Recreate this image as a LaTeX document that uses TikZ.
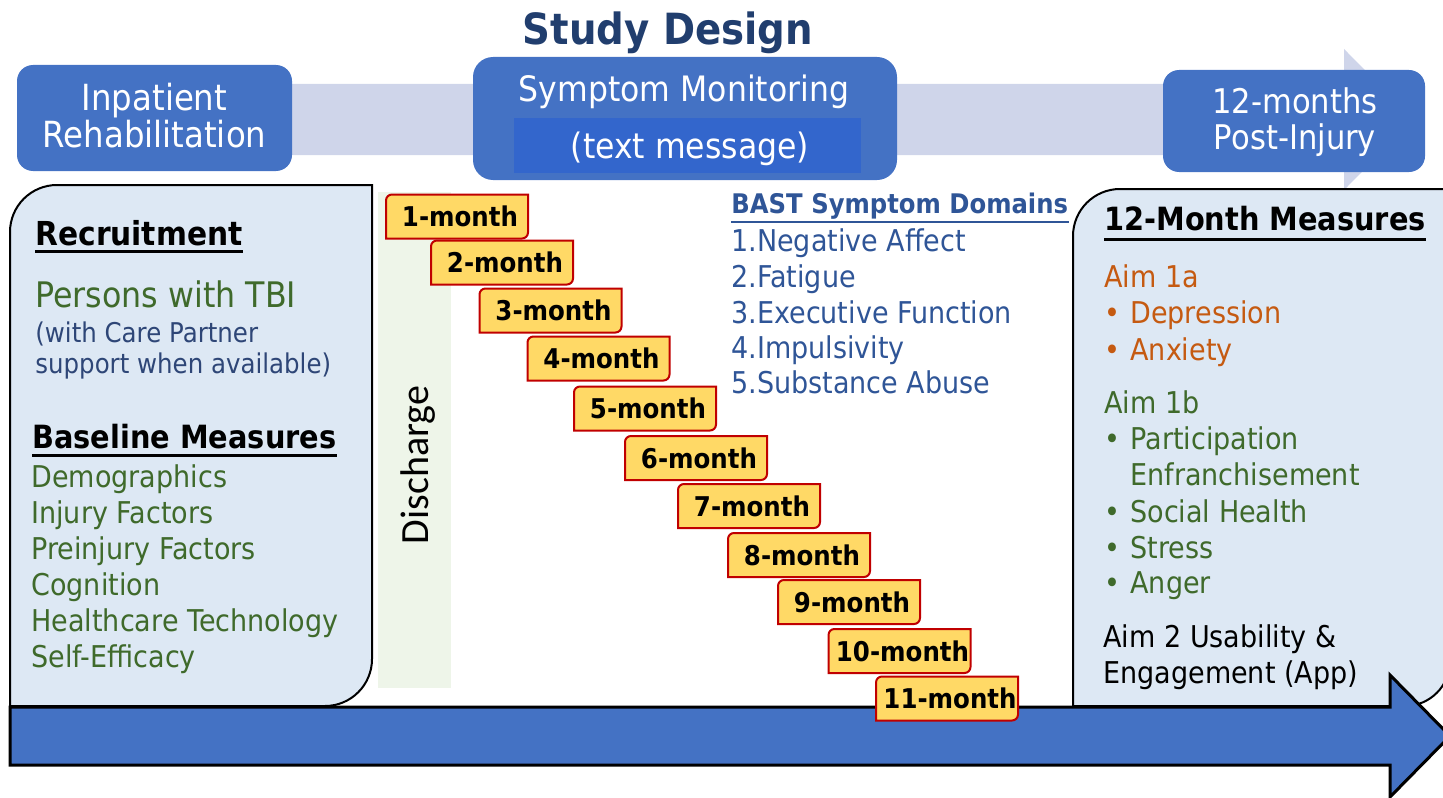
\documentclass[tikz,border=0pt]{standalone}
\usepackage{fontspec}
\setmainfont{DejaVu Sans}[FakeStretch=0.9]
\newfontfamily\calfont{Carlito}
\definecolor{boxblue}{HTML}{4472C4}
\definecolor{innerblue}{HTML}{3366CC}
\definecolor{bandgrey}{HTML}{CFD5EA}
\definecolor{panelblue}{HTML}{DDE8F4}
\definecolor{stripgreen}{HTML}{EEF5E9}
\definecolor{monthfill}{HTML}{FFD966}
\definecolor{monthline}{HTML}{C00000}
\definecolor{txtgreen}{HTML}{3F6A2B}
\definecolor{txtorange}{HTML}{C55A11}
\definecolor{bastblue}{HTML}{2F5597}
\definecolor{navytxt}{HTML}{2E4677}
\definecolor{titleblue}{HTML}{213E6E}
\newcommand{\sz}[1]{\fontsize{#1}{#1}\selectfont}
\newcommand{\monthbox}[4]{%
  \draw[mframe] (#2-71,-#3+22-6) arc[start angle=180,end angle=90,radius=6] -- (#2+71,-#3+22) -- (#2+71,-#3-22+6) arc[start angle=0,end angle=-90,radius=6] -- (#2-71,-#3-22) -- cycle;
  \node[mnode] (#1) at (#2+3,-#3) {#4};}
\begin{document}
\begin{tikzpicture}[x=0.5pt,y=0.5pt,
  t/.style={inner sep=0,anchor=base west},
  tc/.style={inner sep=0,anchor=base},
  topbox/.style={fill=boxblue,rounded corners=8pt,inner sep=0},
  panel/.style={draw=black,line width=1pt,fill=panelblue},
  mframe/.style={draw=monthline,line width=1pt,fill=monthfill},
  mnode/.style={inner sep=0,font=\bfseries\sz{13.6}},
  uline/.style={line width=1.5pt},
  body/.style={font=\sz{15}},
  wtxt/.style={text=white}]
\useasboundingbox (0,0) rectangle (1443,-797);

% background band with arrow head
\fill[bandgrey] (250,-84) -- (1344,-84) -- (1344,-49) -- (1414,-119.5) -- (1344,-190) -- (1344,-155) -- (250,-155) -- cycle;

% top boxes
\node[topbox,minimum width=137.5pt,minimum height=53pt] (inp) at (154.5,-118) {};
\node[tc,wtxt,font=\sz{18}] (inp1) at (154.5,-111) {Inpatient};
\node[tc,wtxt,font=\sz{18}] (inp2) at (154.5,-148) {Rehabilitation};

\node[topbox,rounded corners=10pt,minimum width=212pt,minimum height=61.5pt] (sym) at (685,-118.5) {};
\node[fill=innerblue,inner sep=0,minimum width=173.5pt,minimum height=27.5pt] (symin) at (687.5,-145.5) {};
\node[tc,wtxt,font=\sz{17.5}] (sym1) at (684,-102) {Symptom Monitoring};
\node[tc,wtxt,font=\sz{17.5}] (sym2) at (690,-158) {(text message)};

\node[topbox,minimum width=131pt,minimum height=51pt] (post) at (1294,-121) {};
\node[tc,wtxt,font=\sz{17}] (post1) at (1295,-113) {12-months};
\node[tc,wtxt,font=\sz{17}] (post2) at (1295,-149) {Post-Injury};

% title
\node[tc,font=\bfseries\sz{21.5},text=titleblue] (title) at (668,-45) {Study Design};

% left panel
\draw[panel] (10,-706) -- (10,-232) arc[start angle=180,end angle=90,radius=47] -- (372,-185) -- (372,-659) arc[start angle=0,end angle=-90,radius=47] -- cycle;
% right panel
\draw[panel] (1073,-706) -- (1073,-236) arc[start angle=180,end angle=90,radius=47] -- (1450,-189) -- (1450,-661) arc[start angle=0,end angle=-90,radius=45] -- cycle;

% discharge strip
\fill[stripgreen] (378,-192) rectangle (451,-688);
\node[rotate=90,inner sep=0,font=\calfont\sz{20}] (dis) at (418,-465) {Discharge};

% left panel text
\node[t,font=\bfseries\sz{16.5}] (rec) at (35,-245) {Recruitment};
\draw[uline] ([yshift=-3pt]rec.base west) -- ([yshift=-3pt]rec.base east);
\node[t,font=\sz{17.6},text=txtgreen] (pers) at (35,-307) {Persons with TBI};
\node[t,font=\sz{13.6},text=navytxt] (care1) at (35,-342) {(with Care Partner};
\node[t,font=\sz{13.6},text=navytxt] (care2) at (35,-373) {support when available)};
\node[t,font=\bfseries\sz{16}] (base) at (32,-448) {Baseline Measures};
\draw[uline] ([yshift=-3.5pt]base.base west) -- ([yshift=-3.5pt]base.base east);
\node[t,body,text=txtgreen] (b1) at (31,-487) {Demographics};
\node[t,body,text=txtgreen] (b2) at (31,-523) {Injury Factors};
\node[t,body,text=txtgreen] (b3) at (31,-559) {Preinjury Factors};
\node[t,body,text=txtgreen] (b4) at (31,-595) {Cognition};
\node[t,body,text=txtgreen] (b5) at (31,-631) {Healthcare Technology};
\node[t,body,text=txtgreen] (b6) at (31,-667) {Self-Efficacy};

% BAST
\node[t,font=\bfseries\sz{13.5},text=bastblue] (bast) at (731,-213) {BAST Symptom Domains};
\draw[line width=1pt,bastblue] ([yshift=-4.5pt]bast.base west) -- ([yshift=-4.5pt]bast.base east);
\node[t,body,text=bastblue] (d1) at (731,-251) {1.Negative Affect};
\node[t,body,text=bastblue] (d2) at (731,-287) {2.Fatigue};
\node[t,body,text=bastblue] (d3) at (731,-323) {3.Executive Function};
\node[t,body,text=bastblue] (d4) at (731,-358) {4.Impulsivity};
\node[t,body,text=bastblue] (d5) at (731,-393) {5.Substance Abuse};

% right panel text
\node[t,font=\bfseries\sz{16}] (twelve) at (1104,-230) {12-Month Measures};
\draw[uline] ([yshift=-4.5pt]twelve.base west) -- ([yshift=-4.5pt]twelve.base east);
\node[t,body,text=txtorange] (a1a) at (1104,-287) {Aim 1a};
\node[t,body,text=txtorange] (bu1) at (1104,-323) {•};
\node[t,body,text=txtorange] (dep) at (1130,-323) {Depression};
\node[t,body,text=txtorange] (bu2) at (1104,-360) {•};
\node[t,body,text=txtorange] (anx) at (1130,-360) {Anxiety};
\node[t,body,text=txtgreen] (a1b) at (1104,-413) {Aim 1b};
\node[t,body,text=txtgreen] (bu3) at (1104,-449) {•};
\node[t,body,text=txtgreen] (par) at (1130,-449) {Participation};
\node[t,body,text=txtgreen] (enf) at (1130,-485) {Enfranchisement};
\node[t,body,text=txtgreen] (bu4) at (1104,-522) {•};
\node[t,body,text=txtgreen] (soc) at (1130,-522) {Social Health};
\node[t,body,text=txtgreen] (bu5) at (1104,-558) {•};
\node[t,body,text=txtgreen] (str) at (1130,-558) {Stress};
\node[t,body,text=txtgreen] (bu6) at (1104,-593) {•};
\node[t,body,text=txtgreen] (ang) at (1130,-593) {Anger};
\node[t,body] (aim2a) at (1103,-647) {Aim 2 Usability \&};
\node[t,body] (aim2b) at (1103,-683) {Engagement (App)};

% timeline arrow
\draw[line width=1.5pt,fill=boxblue,line join=miter] (10,-707) -- (1390,-707) -- (1390,-675) -- (1450,-736) -- (1390,-797) -- (1390,-765) -- (10,-765) -- cycle;

% month boxes
\monthbox{m1}{457}{216.5}{1-month}
\monthbox{m2}{502}{262.5}{2-month}
\monthbox{m3}{550.5}{310.5}{3-month}
\monthbox{m4}{598.5}{358.5}{4-month}
\monthbox{m5}{645}{408.5}{5-month}
\monthbox{m6}{696}{458}{6-month}
\monthbox{m7}{749}{506}{7-month}
\monthbox{m8}{799}{555}{8-month}
\monthbox{m9}{849}{602}{9-month}
\monthbox{m10}{899.5}{651}{10-month}
\monthbox{m11}{947}{698.5}{11-month}
\end{tikzpicture}
\end{document}
